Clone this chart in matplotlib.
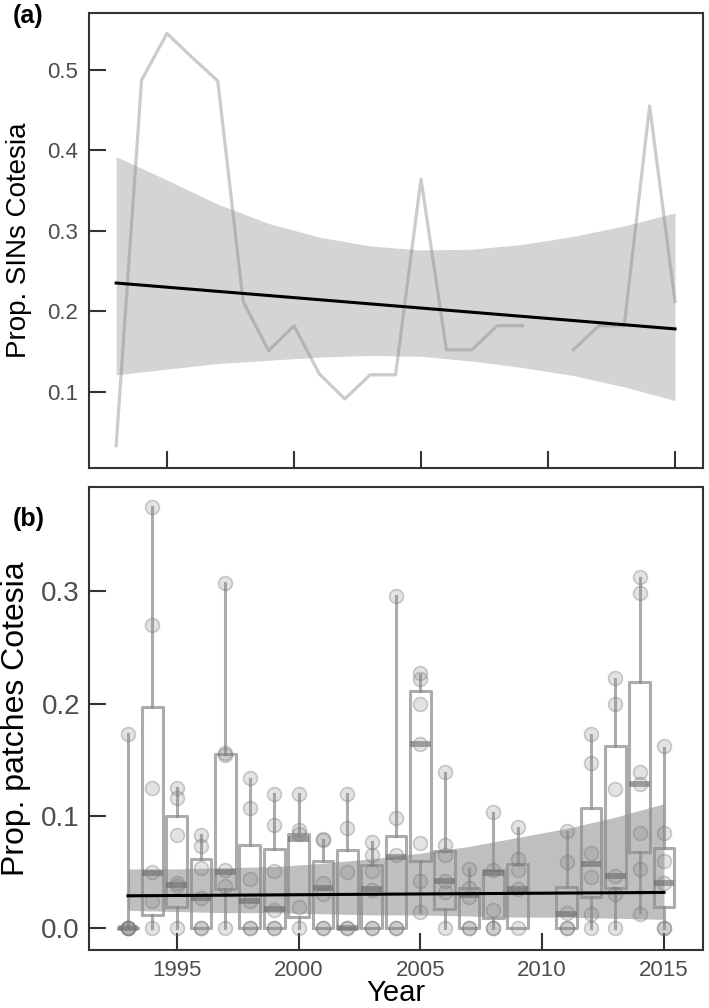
import numpy as np
import matplotlib
matplotlib.use("Agg")
import matplotlib.pyplot as plt

plt.rcParams["font.family"] = ["Liberation Sans", "DejaVu Sans"]

# panel (a): proportion of SINs with Cotesia per year
years_a = [1993, 1994, 1995, 1996, 1997, 1998, 1999, 2000, 2001, 2002, 2003,
           2004, 2005, 2006, 2007, 2008, 2009, 2010, 2011, 2012, 2013, 2014, 2015]
prop_sins = [0.033, 0.487, 0.545, 0.515, 0.486, 0.212, 0.151, 0.182, 0.122, 0.091, 0.121,
             0.121, 0.364, 0.152, 0.152, 0.182, 0.182, np.nan, 0.152, 0.182, 0.182, 0.455, 0.212]
fit_a = [0.235, 0.178]
band_years = [1993, 1995, 1997, 1999, 2001, 2003, 2005, 2007, 2009, 2011, 2013, 2015]
band_a_hi = [0.392, 0.363, 0.333, 0.309, 0.292, 0.281, 0.276, 0.277, 0.283, 0.293, 0.306, 0.322]
band_a_lo = [0.121, 0.128, 0.135, 0.139, 0.143, 0.145, 0.144, 0.138, 0.130, 0.120, 0.106, 0.089]

# panel (b): proportion of patches with Cotesia, boxplots per year
years_b = [1993, 1994, 1995, 1996, 1997, 1998, 1999, 2000, 2001, 2002, 2003,
           2004, 2005, 2006, 2007, 2008, 2009, 2011, 2012, 2013, 2014, 2015]
q1 = [0, 0.012, 0.019, 0, 0.035, 0, 0, 0.010, 0, 0, 0,
      0, 0.060, 0.017, 0, 0.009, 0, 0, 0.028, 0.036, 0.068, 0.019]
med = [0, 0.049, 0.039, 0.027, 0.050, 0.024, 0.017, 0.080, 0.036, 0, 0.035,
       0.064, 0.164, 0.042, 0.030, 0.049, 0.035, 0.013, 0.057, 0.047, 0.129, 0.040]
q3 = [0, 0.197, 0.100, 0.062, 0.155, 0.074, 0.071, 0.084, 0.060, 0.070, 0.056,
      0.082, 0.211, 0.069, 0.036, 0.052, 0.057, 0.037, 0.107, 0.162, 0.219, 0.072]
whis_lo = [0, 0, 0, 0, 0, 0, 0, 0, 0, 0, 0,
           0, 0.015, 0, 0, 0, 0, 0, 0, 0, 0.015, 0]
whis_hi = [0.173, 0.375, 0.125, 0.083, 0.308, 0.133, 0.120, 0.120, 0.079, 0.120, 0.077,
           0.296, 0.226, 0.138, 0.053, 0.103, 0.089, 0.086, 0.172, 0.222, 0.312, 0.161]
patches = [
    [0.173, 0, 0, 0, 0],
    [0.375, 0.27, 0.125, 0.05, 0.024, 0],
    [0.125, 0.116, 0.083, 0.04, 0.038, 0],
    [0.083, 0.073, 0.054, 0.027, 0, 0],
    [0.308, 0.156, 0.154, 0.052, 0.038, 0],
    [0.134, 0.107, 0.044, 0.024, 0, 0],
    [0.12, 0.092, 0.051, 0.016, 0, 0],
    [0.12, 0.088, 0.084, 0.019, 0],
    [0.08, 0.079, 0.04, 0.031, 0, 0],
    [0.12, 0.089, 0.05, 0, 0],
    [0.077, 0.065, 0.051, 0.034, 0, 0],
    [0.296, 0.098, 0.065, 0, 0],
    [0.227, 0.222, 0.2, 0.164, 0.076, 0.042, 0.015],
    [0.139, 0.074, 0.065, 0.042, 0.032, 0],
    [0.053, 0.036, 0.028, 0, 0],
    [0.104, 0.052, 0.016, 0, 0],
    [0.09, 0.062, 0.052, 0.035, 0],
    [0.087, 0.059, 0.014, 0, 0],
    [0.173, 0.147, 0.067, 0.046, 0.013, 0],
    [0.223, 0.2, 0.124, 0.047, 0.031, 0],
    [0.313, 0.299, 0.139, 0.129, 0.085, 0.053, 0.013],
    [0.162, 0.085, 0.06, 0.04, 0, 0],
]
fit_b = [0.029, 0.032]
band_b_hi = [0.053, 0.053, 0.054, 0.055, 0.058, 0.062, 0.067, 0.073, 0.081, 0.089, 0.099, 0.111]
band_b_lo = [0.016, 0.015, 0.014, 0.014, 0.013, 0.012, 0.012, 0.011, 0.010, 0.010, 0.009, 0.008]

xticks = [1995, 2000, 2005, 2010, 2015]

fig = plt.figure(figsize=(7.09, 10.08), dpi=100)
ax1 = fig.add_axes([0.1255, 0.5357, 0.866, 0.4514])
ax2 = fig.add_axes([0.1255, 0.0575, 0.866, 0.4593])

for ax in (ax1, ax2):
    for s in ax.spines.values():
        s.set_color("#333333")
        s.set_linewidth(1.5)
    ax.tick_params(direction="in", length=12, width=1.5, color="#333333",
                   labelcolor="#4d4d4d")
    ax.set_xticks(xticks)

# (a)
ax1.fill_between(band_years, band_a_lo, band_a_hi, color=(0.6, 0.6, 0.6), alpha=0.42,
                 linewidth=0)
ax1.plot(years_a, prop_sins, color=(0.55, 0.55, 0.55), alpha=0.45, linewidth=2.3)
ax1.plot([years_a[0], years_a[-1]], fit_a, color="black", linewidth=2.2)
ax1.set_xlim(1991.93, 2016.1)
ax1.set_ylim(0.0052, 0.5704)
ax1.set_yticks([0.1, 0.2, 0.3, 0.4, 0.5])
ax1.set_xticklabels([])
ax1.tick_params(axis="y", labelsize=16, pad=8)
ax1.set_ylabel("Prop. SINs Cotesia", fontsize=20)
ax1.yaxis.set_label_coords(-0.093, 0.5)

# (b)
ax2.fill_between(band_years, band_b_lo, band_b_hi, color=(0.45, 0.45, 0.45), alpha=0.45,
                 linewidth=0, zorder=1)
stats = [dict(q1=a, med=m, q3=b, whislo=lo, whishi=hi)
         for a, m, b, lo, hi in zip(q1, med, q3, whis_lo, whis_hi)]
line_col = (0.55, 0.55, 0.55, 0.72)
ax2.bxp(stats, positions=years_b, widths=0.85, showfliers=False, showcaps=False,
        boxprops=dict(color=line_col, linewidth=2.2),
        whiskerprops=dict(color=line_col, linewidth=2.2),
        medianprops=dict(color=(0.4, 0.4, 0.4, 0.6), linewidth=4.2),
        manage_ticks=False, zorder=2)
for yr, vals in zip(years_b, patches):
    ax2.scatter([yr] * len(vals), vals, s=100, facecolor=(0.5, 0.5, 0.5, 0.22),
                edgecolor=(0.45, 0.45, 0.45, 0.35), linewidth=1.2, zorder=3)
ax2.plot([years_b[0], years_b[-1]], fit_b, color="black", linewidth=2.2, zorder=4)
ax2.set_xlim(1991.4, 2016.6)
ax2.set_ylim(-0.0193, 0.393)
ax2.set_yticks([0.0, 0.1, 0.2, 0.3])
ax2.set_xticks(xticks)
ax2.tick_params(axis="y", labelsize=20, pad=6.5)
ax2.tick_params(axis="x", labelsize=16, pad=7)
ax2.set_ylabel("Prop. patches Cotesia", fontsize=23)
ax2.yaxis.set_label_coords(-0.094, 0.5)
ax2.set_xlabel("Year", fontsize=21, labelpad=-1.5)

fig.text(13 / 709, 1 - 4 / 1008, "(a)", fontsize=18, fontweight="bold", va="top")
fig.text(13 / 709, 1 - 507 / 1008, "(b)", fontsize=18, fontweight="bold", va="top")

fig.savefig("out.png", dpi=100)
